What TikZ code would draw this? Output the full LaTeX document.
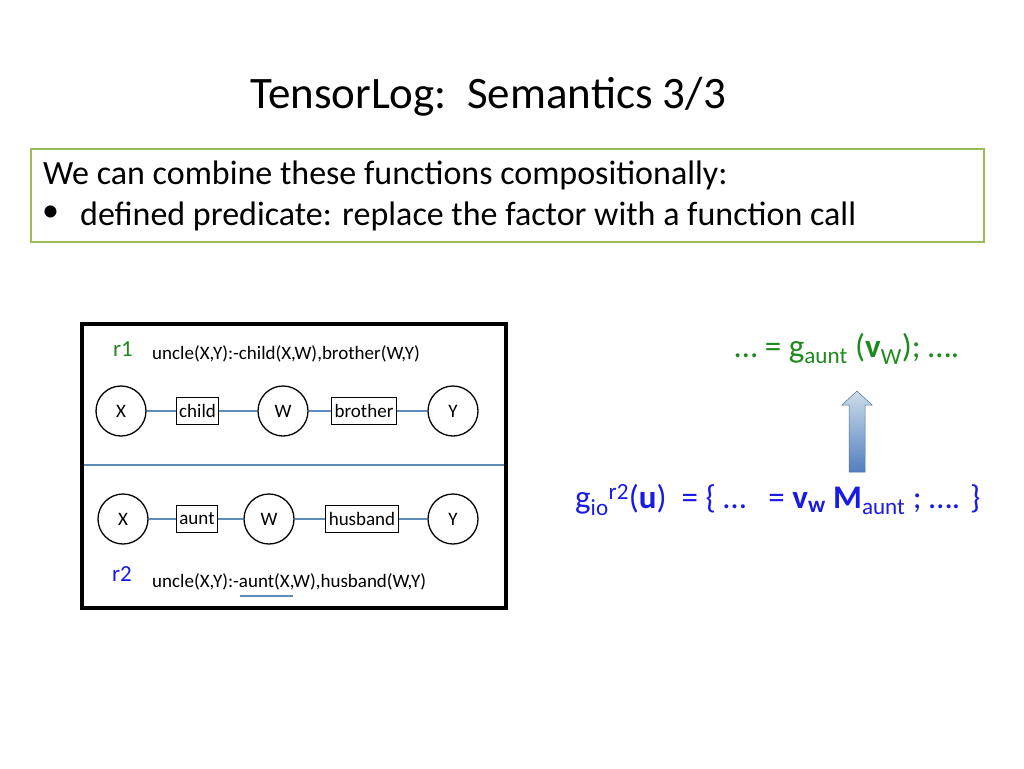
\documentclass[tikz,border=0pt]{standalone}
\usepackage{fontspec}
\setmainfont{Carlito}
\usetikzlibrary{shadows}
\definecolor{olive}{HTML}{9BBB59}
\definecolor{eqgreen}{HTML}{1E8A1E}
\definecolor{eqblue}{HTML}{1A1AE6}
\definecolor{linkc}{HTML}{5B8DB8}
\begin{document}
\begin{tikzpicture}[x=1pt,y=-1pt,
  var/.style={circle,draw,line width=1.3pt,minimum size=50pt,inner sep=0pt,font=\fontsize{19}{21}\selectfont},
  fac/.style={rectangle,draw,line width=1.1pt,minimum height=27pt,inner sep=3pt,font=\fontsize{19}{21}\selectfont},
  link/.style={linkc,line width=1.2pt}]
\useasboundingbox (0,0) rectangle (1024,768);
\node[font=\fontsize{45}{52}\selectfont] (title) at (488,97) {TensorLog:\ \ Semantics 3/3};
\node[draw=olive,line width=2pt,minimum width=953pt,minimum height=93pt] (tbox) at (507.5,195.5) {};
\node[anchor=west,inner sep=0pt,font=\fontsize{34}{40}\selectfont] (l1) at (43,175) {We can combine these functions compositionally:};
\node[anchor=west,inner sep=0pt,font=\fontsize{34}{40}\selectfont] (b1) at (42,214) {•};
\node[anchor=west,inner sep=0pt,font=\fontsize{34}{40}\selectfont] (l2) at (80,216) {defined predicate: replace the factor with a function call};
% diagram frame
\node[draw,line width=3.5pt,fill=white,minimum width=424pt,minimum height=284pt,drop shadow={shadow xshift=2pt,shadow yshift=-2pt,opacity=0.4}] (frame) at (294,466) {};
\node[eqgreen,font=\fontsize{23}{25}\selectfont] (r1) at (123,349) {r1};
\node[anchor=west,inner sep=0pt,font=\fontsize{19}{22}\selectfont] (rule1) at (152,354) {uncle(X,Y):-child(X,W),brother(W,Y)};
\node[var] (x1) at (121,411) {X};
\node[fac] (c1) at (197.5,411) {child};
\node[var] (w1) at (283,411) {W};
\node[fac] (br) at (364,411) {brother};
\node[var] (y1) at (453,411) {Y};
\draw[link] (x1)--(c1) (c1)--(w1) (w1)--(br) (br)--(y1);
\coordinate (sl) at (84,465); \coordinate (sr) at (504,465);
\draw[linkc,line width=1.5pt] (sl)--(sr);
\node[var] (x2) at (123,519) {X};
\node[fac] (au) at (197,519) {aunt};
\node[var] (w2) at (269,519) {W};
\node[fac] (hu) at (362,519) {husband};
\node[var] (y2) at (453,519) {Y};
\draw[link] (x2)--(au) (au)--(w2) (w2)--(hu) (hu)--(y2);
\node[eqblue,font=\fontsize{23}{25}\selectfont] (r2) at (122,574) {r2};
\node[anchor=west,inner sep=0pt,font=\fontsize{19}{22}\selectfont] (rule2) at (152,582) {uncle(X,Y):-aunt(X,W),husband(W,Y)};
\coordinate (ua) at (240,596); \coordinate (ub) at (293,596);
\draw[linkc,line width=1.6pt] (ua)--(ub);
% equations
\node[eqgreen,font=\fontsize{33}{38}\selectfont] (eq1) at (847,349) {… = g\textsubscript{aunt} (\textbf{v}\textsubscript{W}); ….};
\node[anchor=west,inner sep=0pt,eqblue,font=\fontsize{33}{38}\selectfont] (eq2) at (575,500) {g\textsubscript{io}\textsuperscript{r2}(\textbf{u})\ \ = \{ …\ \ \ = \textbf{v\textsubscript{w} M}\textsubscript{aunt} ; …. \}};
\shade[top color=white!70!linkc,bottom color=linkc!90!blue,draw=linkc!80!black,line width=0.5pt]
 (849,472)--(849,405)--(842,405)--(857,391)--(872,405)--(865,405)--(865,472)--cycle;
\end{tikzpicture}
\end{document}
